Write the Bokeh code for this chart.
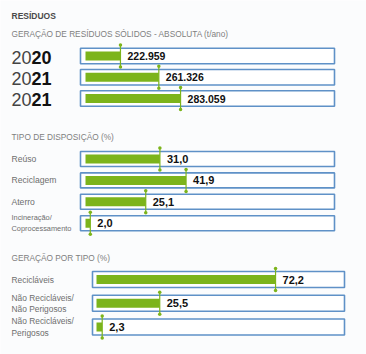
from bokeh.plotting import figure
from bokeh.models import Range1d
from bokeh.core.properties import value
from bokeh.embed import file_html
from bokeh.resources import INLINE

# ---------------- data ----------------
years = ["2020", "2021", "2021"]
abs_values = [222959, 261326, 283059]          # t/ano
disp_cats = ["Reúso", "Reciclagem", "Aterro", "Incineração/\nCoprocessamento"]
disp_values = [31.0, 41.9, 25.1, 2.0]          # %
tipo_cats = ["Recicláveis", "Não Recicláveis/\nNão Perigosos", "Não Recicláveis/\nPerigosos"]
tipo_values = [72.2, 25.5, 2.3]                # %

title = "RESÍDUOS"
sub1 = "GERAÇÃO DE RESÍDUOS SÓLIDOS - ABSOLUTA (t/ano)"
sub2 = "TIPO DE DISPOSIÇÃO (%)"
sub3 = "GERAÇÃO POR TIPO (%)"

def fmt_thousands(v):
    return f"{v:,}".replace(",", ".")

def fmt_pct(v):
    return f"{v:.1f}".replace(".", ",")

# ---------------- layout constants ----------------
W, H = 366, 354
FONT = value("Liberation Sans")
GREEN = "#7cb41b"
BLUE = "#5f91c7"
GRAY = "#6e6e6e"

p = figure(width=W, height=H, output_backend="svg", toolbar_location=None,
           x_range=Range1d(0, W), y_range=Range1d(H, 0),
           x_axis_type=None, y_axis_type=None, min_border=0)
p.grid.visible = False
p.outline_line_color = None
p.background_fill_color = "#fbfcfd"
p.border_fill_color = "#fbfcfd"

# scales of the three sections (pixel origin, px per unit, axis start)
ABS_START = 188000
abs_k, abs_o = 1.0 / 1000, 85
disp_k, disp_o = 2.4, 85
tipo_k, tipo_o = 2.48, 96
p.extra_x_ranges = {
    "abs": Range1d(ABS_START - abs_o / abs_k, ABS_START + (W - abs_o) / abs_k),
    "disp": Range1d(-disp_o / disp_k, (W - disp_o) / disp_k),
    "tipo": Range1d(-tipo_o / tipo_k, (W - tipo_o) / tipo_k),
}

def section(rname, base, vals, labels, centers, box_l, box_r, box_h, bar_h, fs):
    n = len(vals)
    p.quad(left=[box_l] * n, right=[box_r] * n,
           top=[c - box_h / 2 for c in centers], bottom=[c + box_h / 2 for c in centers],
           fill_color="white", line_color=BLUE, line_width=1.6)
    p.hbar(y=centers, left=[base] * n, right=vals, height=bar_h,
           fill_color=GREEN, line_color=None, x_range_name=rname)
    p.segment(x0=vals, x1=vals, y0=[c - 11 for c in centers], y1=[c + 11 for c in centers],
              line_color=GREEN, line_width=1.2, x_range_name=rname)
    p.scatter(x=list(vals) * 2, y=[c - 11 for c in centers] + [c + 11 for c in centers],
              size=3.5, fill_color=GREEN, line_color=None, x_range_name=rname)
    p.text(x=vals, y=centers, text=labels, x_offset=7, text_baseline="middle",
           text_font=FONT, text_font_style="bold", text_font_size=fs,
           text_color="#111111", x_range_name=rname)

# titles
p.text(x=[11], y=[15], text=[title], text_font=FONT, text_font_style="bold",
       text_font_size="8.5px", text_color="#4a4a4a", text_baseline="middle")
for txt, yy in [(sub1, 33), (sub2, 136), (sub3, 257)]:
    p.text(x=[11], y=[yy], text=[txt], text_font=FONT, text_font_size="8.3px",
           text_color="#808080", text_baseline="middle")

# section 1
c1 = [55.5 + i * 21.25 for i in range(len(years))]
p.text(x=[11] * len(years), y=[c + 1 for c in c1], text=[y[:2] for y in years],
       text_font=FONT, text_font_size="18px", text_color="#444444",
       text_baseline="middle")
p.text(x=[31] * len(years), y=[c + 1 for c in c1], text=[y[2:] for y in years],
       text_font=FONT, text_font_style="bold", text_font_size="18px",
       text_color="#111111", text_baseline="middle")
section("abs", ABS_START, abs_values, [fmt_thousands(v) for v in abs_values],
        c1, 80, 334, 15.5, 9, "10.5px")

# section 2
c2 = [158.5 + i * 21.4 for i in range(len(disp_cats))]
p.text(x=[11] * 3, y=c2[:3], text=disp_cats[:3], text_font=FONT, text_font_size="8.6px",
       text_color=GRAY, text_baseline="middle")
p.text(x=[11], y=[c2[3]], text=[disp_cats[3]], text_font=FONT, text_font_size="7.4px",
       text_color=GRAY, text_baseline="middle", text_line_height=1.25)
section("disp", 0, disp_values, [fmt_pct(v) for v in disp_values],
        c2, 80, 334, 15, 9, "11px")

# section 3
c3 = [279 + i * 23.75 for i in range(len(tipo_cats))]
p.text(x=[11] * len(tipo_cats), y=c3, text=tipo_cats, text_font=FONT, text_font_size="8.4px",
       text_color=GRAY, text_baseline="middle", text_line_height=1.15)
section("tipo", 0, tipo_values, [fmt_pct(v) for v in tipo_values],
        c3, 92, 344, 16, 9, "11px")

open("out.html", "w").write(file_html(p, INLINE))
